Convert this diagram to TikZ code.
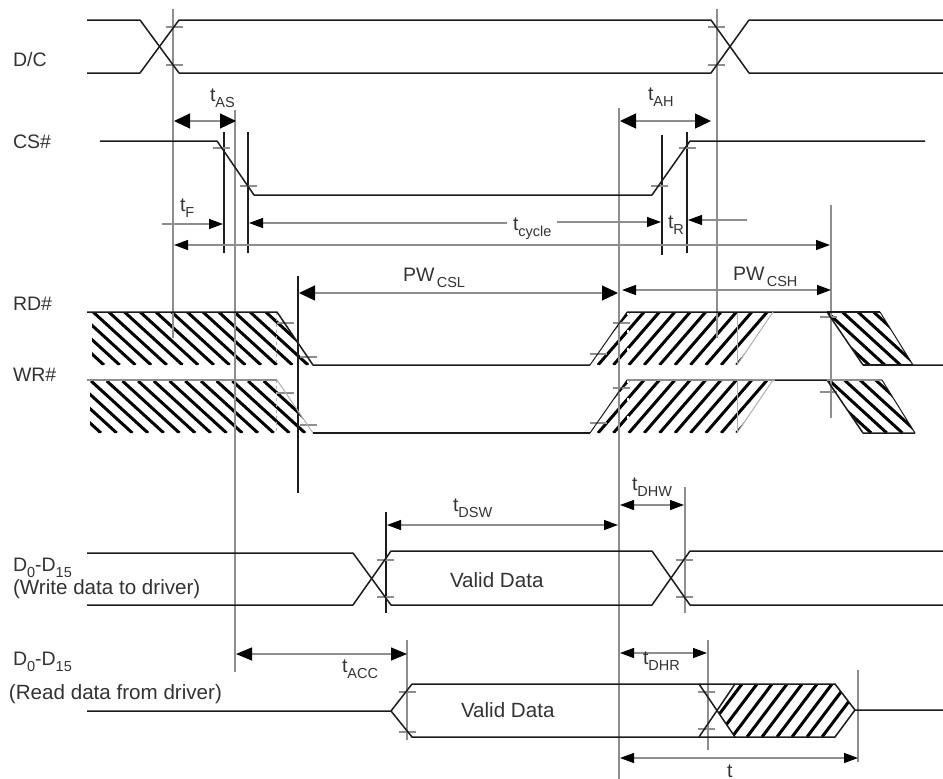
\documentclass[tikz,border=0pt]{standalone}
\usepackage{fontspec}
\setmainfont{Liberation Sans}
\usetikzlibrary{arrows.meta}
\definecolor{ink}{HTML}{1C1C1C}
\definecolor{txt}{HTML}{333333}
\definecolor{guidegrey}{HTML}{8E8E8E}
\definecolor{softgrey}{HTML}{B0B0B0}
\newcommand\sbs[2]{#1\raisebox{-6.5pt}{\fontsize{14.5}{14.5}\selectfont #2}}
\newcommand\hatchlines[7]{% clip path, start x, top y, height, dx, spacing, count
  \begin{scope}
    \clip #1;
    \foreach \k in {0,...,#7} {
      \draw[hatchstroke] ({#2+\k*#6},#3) -- ++(#5,#4);
    }
  \end{scope}}
\tikzset{
  x=1pt,y=-1pt,
  sig/.style={draw=ink,line width=1.5pt,line join=round},
  sigthin/.style={draw=ink,line width=1pt},
  siggrey/.style={draw=guidegrey,line width=1.3pt},
  hatchstroke/.style={draw=black,line width=3pt},
  guide/.style={draw=guidegrey,line width=1.4pt},
  guideblack/.style={draw=ink,line width=1.1pt},
  ticklet/.style={draw=guidegrey,line width=1.1pt},
  thinedge/.style={draw=softgrey,line width=1pt},
  lab/.style={anchor=base west,inner sep=0pt,outer sep=0pt,text=txt,font=\fontsize{19.5}{21}\selectfont},
  labwide/.style={lab,font=\fontsize{20.6}{22}\selectfont},
  dimbig/.style={draw=guidegrey,line width=1.3pt,{Triangle[length=16pt,width=15pt,color=black]}-{Triangle[length=16pt,width=15pt,color=black]}},
  dimmid/.style={draw=guidegrey,line width=1.3pt,{Triangle[length=14pt,width=10pt,color=black]}-{Triangle[length=14pt,width=10pt,color=black]}},
  dimhead/.style={draw=guidegrey,line width=1.2pt,-{Triangle[length=14pt,width=10pt,color=black]}},
}
\begin{document}
\begin{tikzpicture}
\useasboundingbox (0,0) rectangle (943,779);
\fill[white] (0,0) rectangle (943,779);

% ---------- hatching
\hatchlines{(92,312)--(277,312)--(313,365)--(92,365)--cycle}{46}{312}{53}{58}{15.7}{17}
\hatchlines{(90,381)--(277,381)--(313,433)--(90,433)--cycle}{44}{381}{52}{57}{15.7}{17}
\hatchlines{(590,365)--(627,312)--(773,312)--(737,365)--cycle}{582.6}{365}{-53}{46}{15.4}{12}
\hatchlines{(590,433)--(627,380)--(773,380)--(737,433)--cycle}{582.6}{433}{-53}{46}{15.4}{12}
\hatchlines{(827,312)--(880,312)--(913,365)--(863,365)--cycle}{780}{312}{53}{58}{15.6}{8}
\hatchlines{(827,380)--(882,380)--(915,433)--(863,433)--cycle}{782}{380}{53}{58}{15.6}{8}
\hatchlines{(735,684)--(835,684)--(855,710)--(835,737)--(735,737)--(717,710)--cycle}{702}{737}{-53}{40}{15}{12}
\draw[white,line width=1.2pt,dashed] (628,312) -- (628,365);
\draw[white,line width=1.2pt,dashed] (628,380) -- (628,433);

% ---------- guides
\draw[guide] (173,9) -- (173,338);
\draw[guide] (717,9) -- (717,338);
\draw[guide] (235,110) -- (235,672);
\draw[guide] (619,108) -- (619,779);
\draw[guide] (831,205) -- (831,418);
\draw[guide] (685,487) -- (685,613);
\draw[guide] (407,640) -- (407,740);
\draw[guide] (708,640) -- (708,750);
\draw[guide] (858,670) -- (858,762);
\draw[guideblack] (224,132) -- (224,253);
\draw[guideblack] (248,132) -- (248,253);
\draw[guideblack] (662,135) -- (662,255);
\draw[guideblack] (687,132) -- (687,253);
\draw[guideblack] (298,276) -- (298,493);
\draw[guideblack] (386,512) -- (386,613);
\draw[thinedge] (737,312) -- (737,365);
\draw[thinedge] (737,380) -- (737,433);
\draw[thinedge,dashed] (276,312) -- (276,365);
\draw[thinedge,dashed] (276,380) -- (276,433);

% ---------- ticks
\foreach \xa/\yy in {166/27,166/65,708/27,708/65,213/148,240/186,651/186,679/148,
  277/323,300/357,277/393,300/425,613/323,590/354,613/388,590/423,820/317,820/392,
  377/560,377/597,676/560,676/597,399/692,399/732,698/692,698/729}
  \draw[ticklet] (\xa,\yy) -- ++(17,0);

% ---------- D/C
\draw[sig] (87,20) -- (140,20) -- (179,73) -- (711,73) -- (749,20) -- (943,20);
\draw[sig] (87,73) -- (140,73) -- (179,20) -- (711,20) -- (749,73) -- (943,73);
% ---------- CS#
\draw[sig] (100,141) -- (217,141) -- (254,195) -- (652,195) -- (690,141) -- (925,141);
% ---------- RD#
\draw[sig] (87,312) -- (277,312) -- (313,365) -- (590,365);
\draw[sigthin] (590,365) -- (627,312);
\draw[sig] (627,312) -- (827,312) -- (863,365) -- (943,365);
\draw[sig] (827,312) -- (880,312);
\draw[thinedge] (773,312) -- (737,365);
\draw[sigthin] (880,312) -- (913,365);
\draw[sig] (863,365) -- (913,365);
% ---------- WR#
\draw[siggrey] (87,380) -- (277,380);
\draw[thinedge] (277,380) -- (313,433);
\draw[sig] (313,433) -- (590,433);
\draw[sigthin] (590,433) -- (627,380);
\draw[siggrey] (627,380) -- (775,380);
\draw[sig] (775,380) -- (827,380) -- (863,433) -- (915,433);
\draw[siggrey] (827,380) -- (882,380);
\draw[thinedge] (773,380) -- (737,433);
\draw[sigthin] (882,380) -- (915,433);
% ---------- D0-D15 write
\draw[sig] (87,553) -- (353,553) -- (391,605) -- (652,605) -- (690,551) -- (943,551);
\draw[sig] (87,605) -- (353,605) -- (391,551) -- (652,551) -- (690,605) -- (943,605);
% ---------- D0-D15 read
\draw[sig] (87,711) -- (391,711) -- (412,684) -- (835,684) -- (855,710) -- (943,710);
\draw[sig] (391,711) -- (412,737) -- (835,737) -- (855,710);
\draw[sig] (699,684) -- (735,737);
\draw[sig] (699,737) -- (735,684);

% ---------- dimension ends
\coordinate (asL) at (174,121);   \coordinate (asR) at (236,121);
\coordinate (ahL) at (620,121);   \coordinate (ahR) at (711,121);
\coordinate (fL) at (162,224);    \coordinate (fR) at (223,224);
\coordinate (cycA) at (507,223);  \coordinate (cycB) at (249,223);
\coordinate (cycC) at (557,222);  \coordinate (cycD) at (661,222);
\coordinate (rA) at (747,220);    \coordinate (rB) at (688,220);
\coordinate (lngL) at (174,245);  \coordinate (lngR) at (830,245);
\coordinate (cslL) at (299,293);  \coordinate (cslR) at (618,293);
\coordinate (cshL) at (622,290);  \coordinate (cshR) at (831,290);
\coordinate (dswL) at (387,525);  \coordinate (dswR) at (618,525);
\coordinate (dhwL) at (620,505);  \coordinate (dhwR) at (684,505);
\coordinate (accL) at (236,654);  \coordinate (accR) at (407,654);
\coordinate (dhrL) at (620,653);  \coordinate (dhrR) at (707,653);
\coordinate (totL) at (620,758);  \coordinate (totR) at (858,758);

\draw[dimbig] (asL) -- (asR);
\draw[dimbig] (ahL) -- (ahR);
\draw[dimbig] (cslL) -- (cslR);
\draw[dimbig,{Triangle[length=16pt,width=13pt,color=black]}-{Triangle[length=16pt,width=13pt,color=black]}] (accL) -- (accR);
\draw[dimmid] (lngL) -- (lngR);
\draw[dimmid] (cshL) -- (cshR);
\draw[dimmid] (dswL) -- (dswR);
\draw[dimmid] (dhwL) -- (dhwR);
\draw[dimmid] (dhrL) -- (dhrR);
\draw[dimmid] (totL) -- (totR);
\draw[dimhead] (fL) -- (fR);
\draw[dimhead] (cycA) -- (cycB);
\draw[dimhead] (cycC) -- (cycD);
\draw[dimhead] (rA) -- (rB);

% ---------- labels
\node[lab] (ldc) at (13,66) {D/C};
\node[lab] (lcs) at (13,148) {CS\#};
\node[lab] (lrd) at (13,310) {RD\#};
\node[lab] (lwr) at (13,381) {WR\#};
\node[lab] (ld1) at (13,571) {\sbs{D}{0}-\sbs{D}{15}};
\node[labwide] (lw1) at (13,594) {(Write data to driver)};
\node[lab] (ld2) at (13,665) {\sbs{D}{0}-\sbs{D}{15}};
\node[labwide] (lw2) at (9,699) {(Read data from driver)};
\node[lab] (tas) at (210,101) {\sbs{t}{AS}};
\node[lab] (tah) at (648,100) {\sbs{t}{AH}};
\node[lab] (tf) at (180,211) {\sbs{t}{F}};
\node[lab] (tcy) at (513,230) {\sbs{t}{cycle}};
\node[lab] (tr) at (668,228) {\sbs{t}{R}};
\node[lab] (pwl) at (403,281) {\sbs{PW}{\,CSL}};
\node[lab] (pwh) at (733,280) {\sbs{PW}{\,CSH}};
\node[lab] (tdsw) at (453,511) {\sbs{t}{DSW}};
\node[lab] (tdhw) at (632,490) {\sbs{t}{DHW}};
\node[lab] (tacc) at (342,672) {\sbs{t}{ACC}};
\node[lab] (tdhr) at (643,664) {\sbs{t}{DHR}};
\node[lab] (tt) at (727,777) {t};
\node[labwide] (vd1) at (450,587) {Valid Data};
\node[labwide] (vd2) at (461,717) {Valid Data};
\end{tikzpicture}
\end{document}
